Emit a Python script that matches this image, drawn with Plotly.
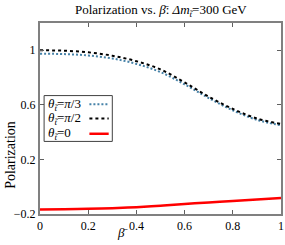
import plotly.graph_objects as go

beta = [0.0, 0.1, 0.2, 0.3, 0.4, 0.5, 0.6, 0.7, 0.8, 0.9, 1.0]
pol_pi3 = [0.975, 0.972, 0.962, 0.94, 0.90, 0.84, 0.75, 0.65, 0.56, 0.49, 0.45]
pol_pi2 = [1.0, 0.997, 0.985, 0.96, 0.92, 0.86, 0.765, 0.66, 0.57, 0.50, 0.46]
pol_0 = [-0.167, -0.166, -0.162, -0.157, -0.15, -0.14, -0.127, -0.115, -0.104, -0.093, -0.082]
xticks = [0, 0.2, 0.4, 0.6, 0.8, 1]
xticklabels = ["0", "0.2", "0.4", "0.6", "0.8", "1"]
yticks = [-0.2, 0.2, 0.6, 1]
yticklabels = ["\u22120.2", "0.2", "0.6", "1"]

FONT = "Liberation Serif, DejaVu Serif, serif"
BLUE = "#4682a8"

fig = go.Figure()
fig.add_trace(go.Scatter(x=beta, y=pol_pi3, mode="lines", line=dict(color=BLUE, width=2, dash="2px,2px", shape="spline"), showlegend=False))
fig.add_trace(go.Scatter(x=beta, y=pol_pi2, mode="lines", line=dict(color="black", width=2, dash="3px,3px", shape="spline"), showlegend=False))
fig.add_trace(go.Scatter(x=beta, y=pol_0, mode="lines", line=dict(color="#ff0000", width=2.5, shape="spline"), showlegend=False))

axcommon = dict(showgrid=False, zeroline=False, showline=True, linecolor="#808080", linewidth=2,
                mirror="allticks", ticks="inside", ticklen=4, tickcolor="#606060", tickwidth=1,
                tickfont=dict(family=FONT, size=12, color="black"))
fig.update_xaxes(range=[0, 1], tickvals=xticks, ticktext=xticklabels, **axcommon)
fig.update_yaxes(range=[-0.2, 1.2], tickvals=yticks, ticktext=yticklabels, **axcommon)

fig.add_annotation(text="Polarization vs. <i>\u03b2\u0304</i>: <i>\u0394m</i><sub><i>t\u0303</i></sub>=300 GeV",
                   x=0.5, y=1.0, xref="paper", yref="paper", showarrow=False, yanchor="bottom", yshift=2,
                   font=dict(family=FONT, size=13, color="black"))
fig.add_annotation(text="<i>\u03b2\u0304</i>", x=0.31, y=-0.045, xref="paper", yref="paper", showarrow=False,
                   yanchor="top", font=dict(family=FONT, size=13, color="black"))
fig.add_annotation(text="Polarization", x=-0.12, y=0.31, xref="paper", yref="paper", showarrow=False,
                   textangle=-90, xanchor="center", yanchor="middle", font=dict(family=FONT, size=14, color="black"))

# custom legend (sample on the right as in reference)
leg_labels = ["<i>\u03b8</i><sub><i>t\u0303</i></sub>=<i>\u03c0</i>/3",
              "<i>\u03b8</i><sub><i>t\u0303</i></sub>=<i>\u03c0</i>/2",
              "<i>\u03b8</i><sub><i>t\u0303</i></sub>=0"]
leg_styles = [dict(color=BLUE, width=2, dash="2px,2px"),
              dict(color="black", width=2, dash="3px,3px"),
              dict(color="#ff0000", width=2.5)]
shapes = [dict(type="rect", xref="paper", yref="paper", x0=0.017, x1=0.30, y0=0.38, y1=0.62,
               line=dict(color="#404040", width=1), fillcolor="white", layer="above")]
rows = [0.575, 0.5, 0.42]
for lab, st, ry in zip(leg_labels, leg_styles, rows):
    fig.add_annotation(text=lab, x=0.025, y=ry, xref="paper", yref="paper", xanchor="left", yanchor="middle",
                       showarrow=False, font=dict(family=FONT, size=13, color="black"))
    shapes.append(dict(type="line", xref="paper", yref="paper", x0=0.205, x1=0.285, y0=ry, y1=ry, line=st, layer="above"))
fig.update_layout(shapes=shapes)

fig.update_layout(width=285, height=245, margin=dict(l=40, r=2, t=23, b=31),
                  paper_bgcolor="white", plot_bgcolor="white", showlegend=False)
fig.write_html("out.html", config={"displayModeBar": False, "staticPlot": True},
               post_script="document.body.style.margin='0';document.body.style.overflow='hidden';")
